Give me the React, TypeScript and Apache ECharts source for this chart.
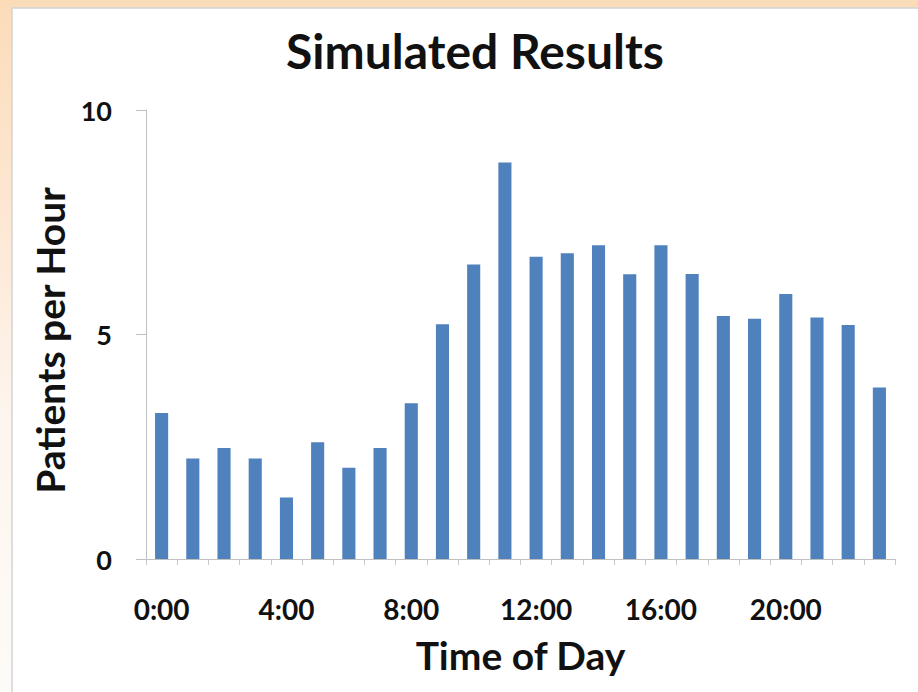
import React, { useEffect, useRef } from "react";
import * as echarts from "echarts";

const hours: string[] = [
  "0:00", "1:00", "2:00", "3:00", "4:00", "5:00", "6:00", "7:00",
  "8:00", "9:00", "10:00", "11:00", "12:00", "13:00", "14:00", "15:00",
  "16:00", "17:00", "18:00", "19:00", "20:00", "21:00", "22:00", "23:00",
];
const patientsPerHour: number[] = [
  3.25, 2.24, 2.47, 2.24, 1.37, 2.6, 2.03, 2.47,
  3.47, 5.23, 6.56, 8.83, 6.73, 6.81, 6.99, 6.34,
  6.99, 6.35, 5.41, 5.35, 5.9, 5.38, 5.21, 3.82,
];
const yTicks = { min: 0, max: 10, interval: 5 };
const titleText = "Simulated Results";
const xName = "Time of Day";
const yName = "Patients per Hour";

const FONT = "Lato, 'Open Sans', sans-serif";

export default function App() {
  const ref = useRef<HTMLDivElement>(null);
  useEffect(() => {
    document.body.style.margin = "0";
    const chart = echarts.init(ref.current!, null, { renderer: "svg" });
    chart.setOption({
      animation: false,
      backgroundColor: new echarts.graphic.LinearGradient(0, 0, 0, 1, [
        { offset: 0, color: "#fbdcb9" },
        { offset: 0.3, color: "#fde7d2" },
        { offset: 0.6, color: "#fdf5ee" },
        { offset: 1, color: "#fdfbf8" },
      ]),
      graphic: [
        {
          type: "rect",
          z: -10,
          shape: { x: 12, y: 8, width: 920, height: 700 },
          style: { fill: "#ffffff", stroke: "#d4d4d4", lineWidth: 1.5 },
        },
      ],
      title: {
        text: titleText,
        left: 470,
        top: 21,
        textAlign: "center",
        textStyle: { fontFamily: FONT, fontWeight: "bold", fontSize: 48, color: "#111" },
      },
      grid: { left: 146, top: 110, width: 749, height: 449, containLabel: false },
      xAxis: {
        type: "category",
        data: hours,
        name: xName,
        nameLocation: "middle",
        nameGap: 76,
        nameTextStyle: { fontFamily: FONT, fontWeight: "bold", fontSize: 39, color: "#111" },
        axisLine: { lineStyle: { color: "#c0c0c0", width: 1 } },
        axisTick: { show: true, interval: 0, length: 6, lineStyle: { color: "#c8c8c8" } },
        axisLabel: {
          interval: 3,
          margin: 36,
          fontFamily: FONT,
          fontWeight: "bold",
          fontSize: 28,
          color: "#111",
        },
      },
      yAxis: {
        type: "value",
        min: yTicks.min,
        max: yTicks.max,
        interval: yTicks.interval,
        name: yName,
        nameLocation: "middle",
        nameGap: 75,
        nameTextStyle: {
          fontFamily: FONT,
          fontWeight: "bold",
          fontSize: 39,
          color: "#111",
          padding: [0, 12, 0, 0],
        },
        axisLine: { show: true, lineStyle: { color: "#c0c0c0", width: 1 } },
        axisTick: { show: true, length: 10, lineStyle: { color: "#c0c0c0" } },
        splitLine: { show: false },
        axisLabel: {
          margin: 34,
          fontFamily: FONT,
          fontWeight: "bold",
          fontSize: 27,
          color: "#111",
        },
      },
      series: [
        {
          type: "bar",
          data: patientsPerHour,
          barWidth: "42%",
          itemStyle: { color: "#4f81bd" },
        },
      ],
    });
    return () => chart.dispose();
  }, []);
  return (
    <div
      ref={ref}
      style={{ position: "absolute", left: 0, top: 0, width: 918, height: 692 }}
    />
  );
}
